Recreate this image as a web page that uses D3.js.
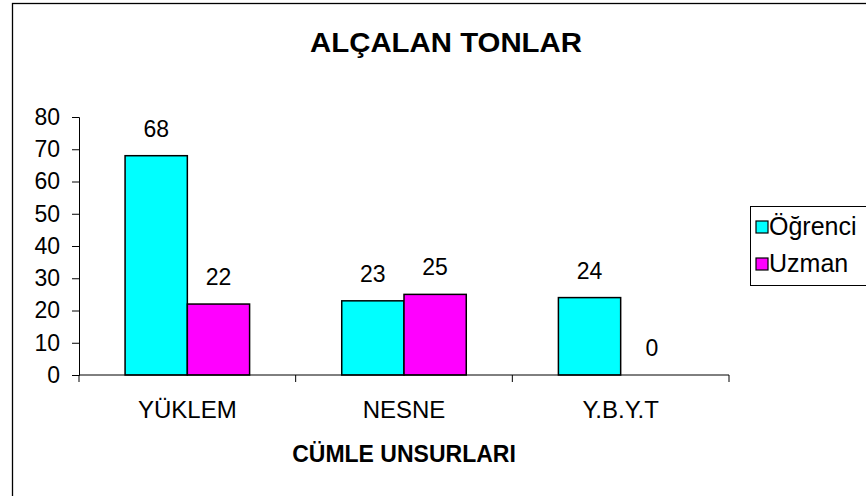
<!DOCTYPE html>
<html>
<head>
<meta charset="utf-8">
<script src="https://cdn.jsdelivr.net/npm/d3@7"></script>
<style>
body { margin: 0; background: #fff; }
text { font-family: "Liberation Sans", Arial, sans-serif; fill: #000; }
</style>
</head>
<body>
<div id="chart"></div>
<script>
// data
var categories = ["YÜKLEM", "NESNE", "Y.B.Y.T"];
var seriesNames = ["Öğrenci", "Uzman"];
var ogrenci = [68, 23, 24];
var uzman = [22, 25, 0];
var yTicks = [0, 10, 20, 30, 40, 50, 60, 70, 80];
var colors = ["#00FFFF", "#FF00FF"];

var width = 866, height = 496;
var plot = {left: 79, right: 729, top: 117, bottom: 375};

var svg = d3.select("#chart").append("svg").attr("width", width).attr("height", height);

// outer frame (runs off the right and bottom edge)
svg.append("rect").attr("x", 12.5).attr("y", 3.5).attr("width", 900).attr("height", 600)
	.attr("fill", "none").attr("stroke", "#000").attr("stroke-width", 1.3);

var x = d3.scaleBand().domain(categories).range([plot.left, plot.right]).paddingInner(0).paddingOuter(0);
var inner = d3.scaleBand().domain(seriesNames).range([0, x.bandwidth()]).paddingInner(0).paddingOuter(0.74);
var y = d3.scaleLinear().domain([0, 80]).range([plot.bottom, plot.top]);

var rows = categories.map(function(c, i) { return {cat: c, vals: [ogrenci[i], uzman[i]]}; });

// bars
var groups = svg.selectAll("g.grp").data(rows).enter().append("g")
	.attr("class", "grp")
	.attr("transform", function(d) { return "translate(" + x(d.cat) + ",0)"; });

groups.selectAll("rect").data(function(d) { return d.vals.map(function(v, j) { return {name: seriesNames[j], v: v, j: j}; }); })
	.enter().filter(function(d) { return d.v > 0; }).append("rect")
	.attr("x", function(d) { return inner(d.name); })
	.attr("y", function(d) { return y(d.v); })
	.attr("width", inner.bandwidth())
	.attr("height", function(d) { return y(0) - y(d.v); })
	.attr("fill", function(d) { return colors[d.j]; })
	.attr("stroke", "#000").attr("stroke-width", 1.5);

// value labels
groups.selectAll("text").data(function(d) { return d.vals.map(function(v, j) { return {name: seriesNames[j], v: v}; }); })
	.enter().append("text")
	.attr("x", function(d) { return inner(d.name) + inner.bandwidth() / 2; })
	.attr("y", function(d) { return y(d.v) - 19; })
	.attr("text-anchor", "middle").attr("font-size", 23)
	.text(function(d) { return d.v; });

// y axis
var yAxis = svg.append("g").attr("transform", "translate(" + plot.left + ",0)")
	.call(d3.axisLeft(y).tickValues(yTicks).tickSize(7).tickPadding(12));
yAxis.selectAll("text").attr("font-size", 23).style("font-family", "Liberation Sans, Arial, sans-serif");

// x axis: ticks at band edges
var xAxis = svg.append("g").attr("transform", "translate(0," + plot.bottom + ")");
xAxis.append("line").attr("x1", plot.left).attr("x2", plot.right).attr("stroke", "#000");
xAxis.selectAll("line.tk").data(categories.concat(["end"])).enter().append("line")
	.attr("class", "tk")
	.attr("x1", function(d, i) { return i < categories.length ? x(d) : plot.right; })
	.attr("x2", function(d, i) { return i < categories.length ? x(d) : plot.right; })
	.attr("y1", 0).attr("y2", 7).attr("stroke", "#000");
xAxis.selectAll("text").data(categories).enter().append("text")
	.attr("x", function(d) { return x(d) + x.bandwidth() / 2; })
	.attr("y", 43)
	.attr("text-anchor", "middle").attr("font-size", 24)
	.text(function(d) { return d; });
svg.selectAll(".domain, .tick line").attr("stroke", "#000");

// titles
svg.append("text").attr("x", 446).attr("y", 52).attr("text-anchor", "middle")
	.attr("font-size", 27).attr("font-weight", "bold")
	.attr("textLength", 272).attr("lengthAdjust", "spacingAndGlyphs").text("ALÇALAN TONLAR");
svg.append("text").attr("x", 404).attr("y", 462).attr("text-anchor", "middle")
	.attr("font-size", 23).attr("font-weight", "bold").text("CÜMLE UNSURLARI");

// legend
var legend = svg.append("g");
legend.append("rect").attr("x", 750.5).attr("y", 206.5).attr("width", 140).attr("height", 79)
	.attr("fill", "#fff").attr("stroke", "#000").attr("stroke-width", 1);
var li = legend.selectAll("g").data(seriesNames).enter().append("g")
	.attr("transform", function(d, i) { return "translate(756," + (227 + i * 37) + ")"; });
li.append("rect").attr("x", 0).attr("y", -6).attr("width", 12).attr("height", 12)
	.attr("fill", function(d, i) { return colors[i]; }).attr("stroke", "#000").attr("stroke-width", 1.2);
li.append("text").attr("x", 13).attr("y", 8).attr("font-size", 25).text(function(d) { return d; });
</script>
</body>
</html>
